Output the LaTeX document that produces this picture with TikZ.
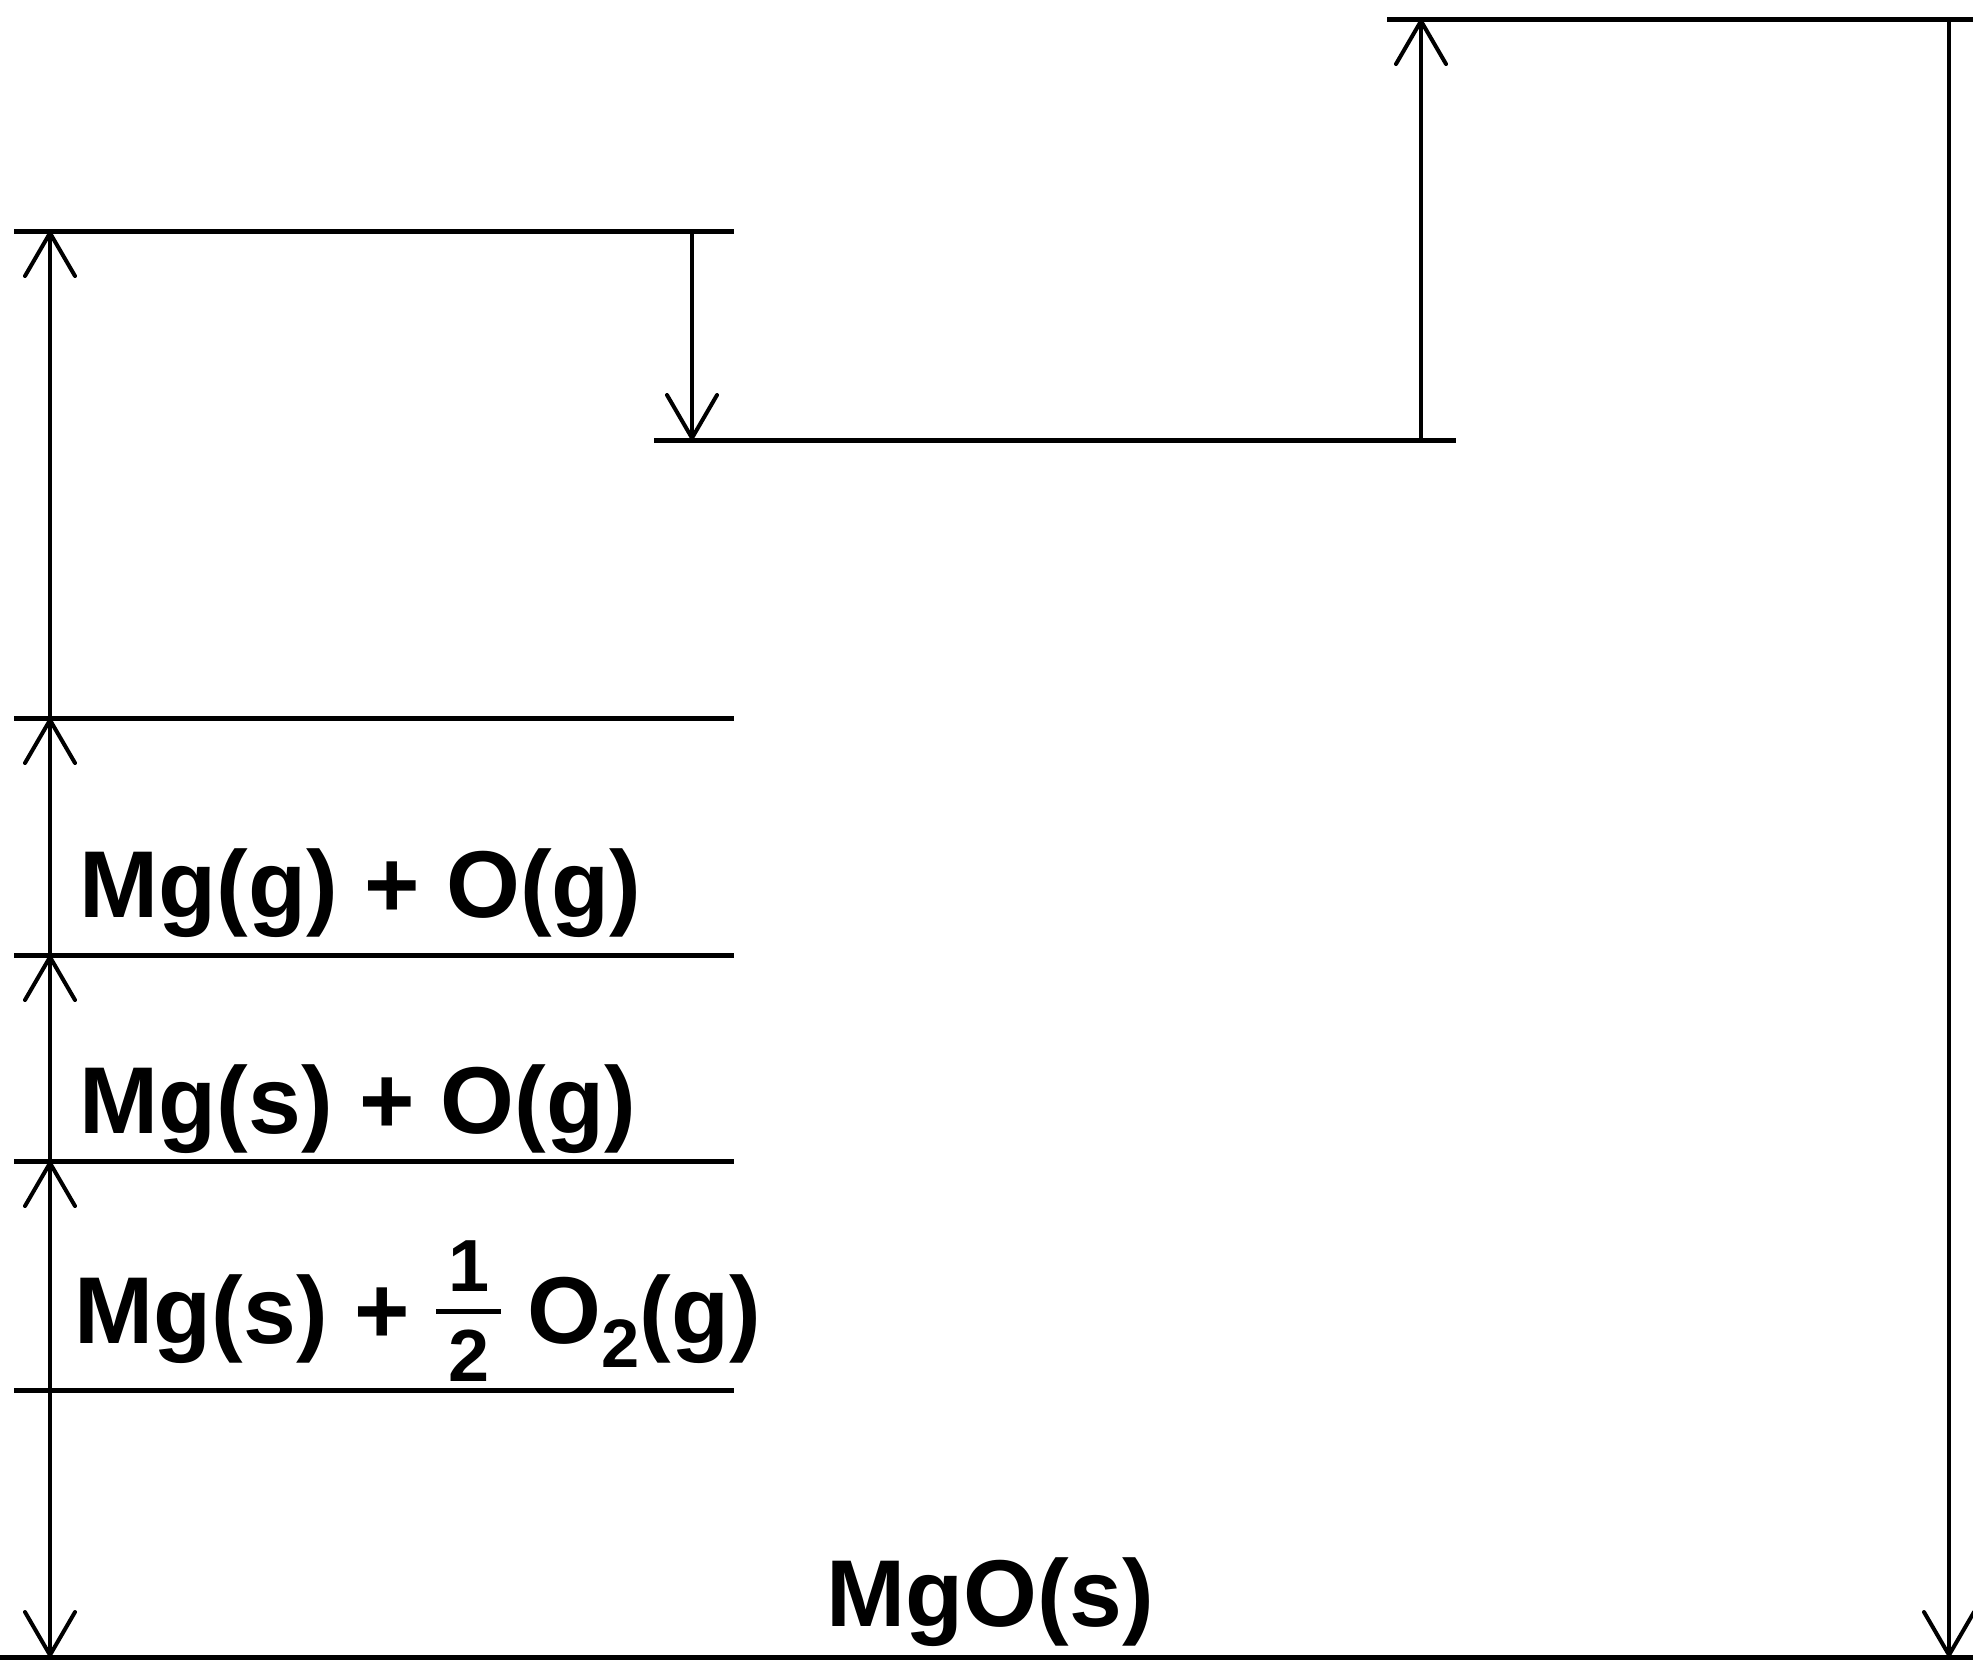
\documentclass[tikz,border=0pt]{standalone}
\usepackage{fontspec}
\setmainfont{Liberation Sans}
\usetikzlibrary{arrows.meta}
\tikzset{
  level/.style={line width=0.05cm},
  jump/.style={line width=0.04cm,-{Straight Barb[length=0.43cm,width=0.5cm,round]}},
  species/.style={anchor=base west,inner sep=0pt,font=\fontsize{27}{32}\selectfont\bfseries}
}
\newcommand{\fracdigit}[1]{{\fontsize{21}{21}\selectfont #1}}
\newcommand{\halfstack}{%
  \makebox[0pt][l]{\makebox[0.65cm]{\raisebox{0.52cm}{\fracdigit{1}}}}%
  \makebox[0pt][l]{\makebox[0.65cm]{\raisebox{-0.38cm}{\fracdigit{2}}}}%
  \rule[0.29cm]{0.65cm}{0.055cm}}
\newcommand{\subtwo}{\raisebox{-0.24cm}{\fontsize{19.5}{20}\selectfont 2}}
\begin{document}
\begin{tikzpicture}[x=0.01cm,y=-0.01cm]
  \useasboundingbox (0,0) rectangle (1973,1659);
  % levels on the left
  \foreach \y/\n in {1390/elem,1161/atomO,955/atomMg,718/ionA,231/ionB}{
    \draw[level] (14,\y) -- (734,\y);
    \coordinate (\n) at (50,\y);
  }
  \draw[level] (654,440) -- (1456,440);
  \draw[level] (1387,19) -- (1973,19);
  \draw[level] (0,1657) -- (1973,1657);
  \coordinate (mgo) at (50,1657);
  \coordinate (ionBr) at (692,231);
  \coordinate (eaA) at (692,440);
  \coordinate (eaAr) at (1421,440);
  \coordinate (eaB) at (1421,19);
  \coordinate (eaBr) at (1949,19);
  \coordinate (mgor) at (1949,1657);
  % labels
  \node[species] (lelem) at (74,1343) {Mg(s) + \halfstack{} O\subtwo(g)};
  \node[species] (latomO) at (79,1133) {Mg(s) + O(g)};
  \node[species] (latomMg) at (79,917) {Mg(g) + O(g)};
  \node[species] (lmgo) at (826,1626) {MgO(s)};
  % steps
  \draw[jump] (elem) -- (atomO);
  \draw[jump] (atomO) -- (atomMg);
  \draw[jump] (atomMg) -- (ionA);
  \draw[jump] (ionA) -- (ionB);
  \draw[jump] (ionBr) -- (eaA);
  \draw[jump] (eaAr) -- (eaB);
  \draw[jump] (eaBr) -- (mgor);
  \draw[jump] (elem) -- (mgo);
\end{tikzpicture}
\end{document}
